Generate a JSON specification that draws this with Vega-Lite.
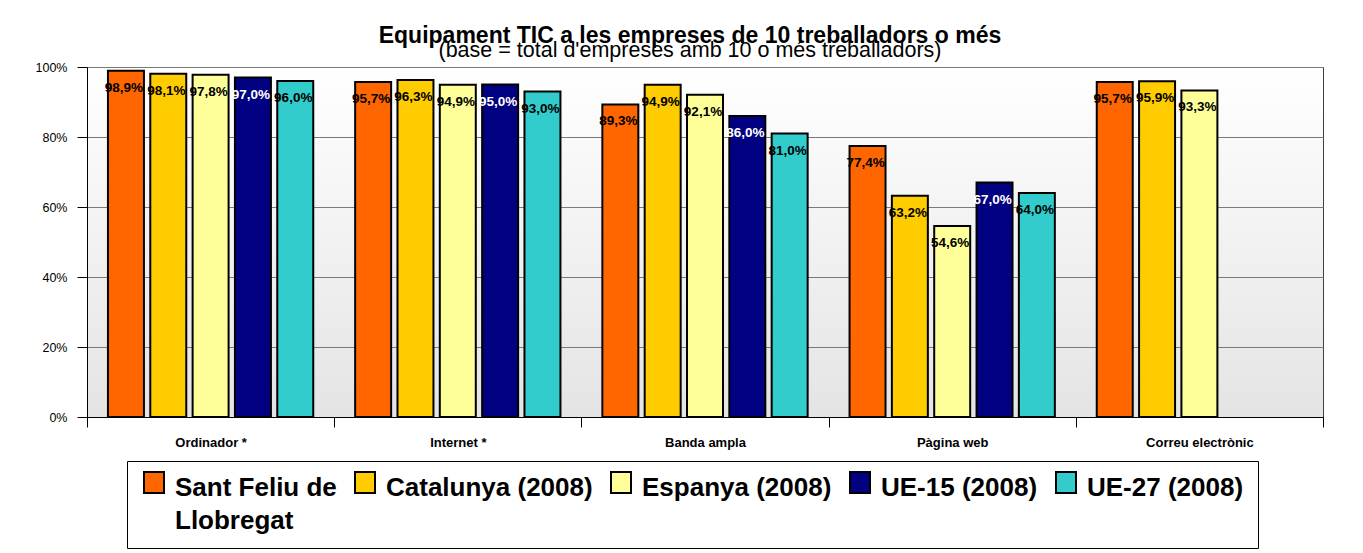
{
  "$schema": "https://vega.github.io/schema/vega-lite/v6.json",
  "width": 1236,
  "height": 350,
  "autosize": "none",
  "padding": {"left": 87, "top": 67, "right": 40, "bottom": 136},
  "background": "white",
  "config": {
    "font": "Liberation Sans",
    "locale": {"number": {"decimal": ",", "thousands": ".", "grouping": [3], "currency": ["", " €"]}},
    "style": {"guide-label": {"lineHeight": 33}},
    "view": {
      "stroke": "#404040",
      "strokeWidth": 1,
      "fill": {"gradient": "linear", "x1": 0, "y1": 0, "x2": 0, "y2": 1, "stops": [{"offset": 0, "color": "#ffffff"}, {"offset": 1, "color": "#e4e4e4"}]}
    }
  },
  "title": {
    "text": "Equipament TIC a les empreses de 10 treballadors o més",
    "subtitle": "(base = total d'empreses amb 10 o més treballadors)",
    "anchor": "middle",
    "dx": -15,
    "fontSize": 23,
    "fontWeight": "bold",
    "color": "black",
    "subtitleFontSize": 21.5,
    "subtitleColor": "black",
    "subtitlePadding": -8,
    "offset": 0
  },
  "data": {
    "values": [
      {"indicador": "Ordinador *", "zona": "Sant Feliu de Llobregat", "valor": 0.989},
      {"indicador": "Ordinador *", "zona": "Catalunya (2008)", "valor": 0.981},
      {"indicador": "Ordinador *", "zona": "Espanya (2008)", "valor": 0.978},
      {"indicador": "Ordinador *", "zona": "UE-15 (2008)", "valor": 0.970},
      {"indicador": "Ordinador *", "zona": "UE-27 (2008)", "valor": 0.960},
      {"indicador": "Internet *", "zona": "Sant Feliu de Llobregat", "valor": 0.957},
      {"indicador": "Internet *", "zona": "Catalunya (2008)", "valor": 0.963},
      {"indicador": "Internet *", "zona": "Espanya (2008)", "valor": 0.949},
      {"indicador": "Internet *", "zona": "UE-15 (2008)", "valor": 0.950},
      {"indicador": "Internet *", "zona": "UE-27 (2008)", "valor": 0.930},
      {"indicador": "Banda ampla", "zona": "Sant Feliu de Llobregat", "valor": 0.893},
      {"indicador": "Banda ampla", "zona": "Catalunya (2008)", "valor": 0.949},
      {"indicador": "Banda ampla", "zona": "Espanya (2008)", "valor": 0.921},
      {"indicador": "Banda ampla", "zona": "UE-15 (2008)", "valor": 0.860},
      {"indicador": "Banda ampla", "zona": "UE-27 (2008)", "valor": 0.810},
      {"indicador": "Pàgina web", "zona": "Sant Feliu de Llobregat", "valor": 0.774},
      {"indicador": "Pàgina web", "zona": "Catalunya (2008)", "valor": 0.632},
      {"indicador": "Pàgina web", "zona": "Espanya (2008)", "valor": 0.546},
      {"indicador": "Pàgina web", "zona": "UE-15 (2008)", "valor": 0.670},
      {"indicador": "Pàgina web", "zona": "UE-27 (2008)", "valor": 0.640},
      {"indicador": "Correu electrònic", "zona": "Sant Feliu de Llobregat", "valor": 0.957},
      {"indicador": "Correu electrònic", "zona": "Catalunya (2008)", "valor": 0.959},
      {"indicador": "Correu electrònic", "zona": "Espanya (2008)", "valor": 0.933}
    ]
  },
  "encoding": {
    "x": {
      "field": "indicador",
      "type": "nominal",
      "sort": ["Ordinador *", "Internet *", "Banda ampla", "Pàgina web", "Correu electrònic"],
      "scale": {"paddingInner": 0, "paddingOuter": 0},
      "axis": {
        "title": null,
        "labelAngle": 0,
        "labelFontSize": 13,
        "labelFontWeight": "bold",
        "labelColor": "black",
        "tickBand": "extent",
        "tickSize": 10,
        "tickColor": "black",
        "domainColor": "black",
        "labelPadding": 9
      }
    },
    "xOffset": {
      "field": "zona",
      "type": "nominal",
      "sort": ["Sant Feliu de Llobregat", "Catalunya (2008)", "Espanya (2008)", "UE-15 (2008)", "UE-27 (2008)"],
      "scale": {"paddingInner": 0.15, "paddingOuter": 0.495}
    },
    "y": {
      "field": "valor",
      "type": "quantitative",
      "scale": {"domain": [0, 1]},
      "axis": {
        "title": null,
        "format": "%",
        "values": [0, 0.2, 0.4, 0.6, 0.8, 1],
        "labelFontSize": 12.5,
        "labelColor": "black",
        "tickSize": 10,
        "tickColor": "black",
        "domainColor": "black",
        "labelPadding": 10,
        "gridColor": "#7a7a7a",
        "gridWidth": 1
      }
    }
  },
  "layer": [
    {
      "mark": {"type": "bar", "stroke": "black", "strokeWidth": 2},
      "encoding": {
        "color": {
          "field": "zona",
          "type": "nominal",
          "sort": ["Sant Feliu de Llobregat", "Catalunya (2008)", "Espanya (2008)", "UE-15 (2008)", "UE-27 (2008)"],
          "scale": {"range": ["#ff6600", "#ffcc00", "#ffff99", "#000080", "#33cccc"]},
          "legend": {
            "title": null,
            "orient": "none",
            "legendX": 40,
            "legendY": 394,
            "direction": "horizontal",
            "symbolType": "M-1,-1.6H1V0.5H-1Z",
            "symbolSize": 400,
            "symbolStrokeColor": "black",
            "symbolStrokeWidth": 2,
            "symbolOpacity": 1,
            "labelFontSize": 26,
            "labelFontWeight": "bold",
            "labelColor": "black",
            "labelLimit": 400,
            "labelOffset": 8,
            "labelBaseline": "middle",
            "columnPadding": 14,
            "padding": 14,
            "strokeColor": "black",
            "fillColor": "white",
            "labelExpr": "datum.label == 'Sant Feliu de Llobregat' ? ['Sant Feliu de', 'Llobregat'] : [datum.label, ' ']"
          }
        }
      }
    },
    {
      "mark": {"type": "text", "dy": 17, "dx": -2, "fontSize": 13.5, "fontWeight": "bold"},
      "encoding": {
        "text": {"field": "valor", "type": "quantitative", "format": ".1%"},
        "color": {"condition": {"test": "datum.zona == 'UE-15 (2008)'", "value": "white"}, "value": "black"}
      }
    }
  ]
}
